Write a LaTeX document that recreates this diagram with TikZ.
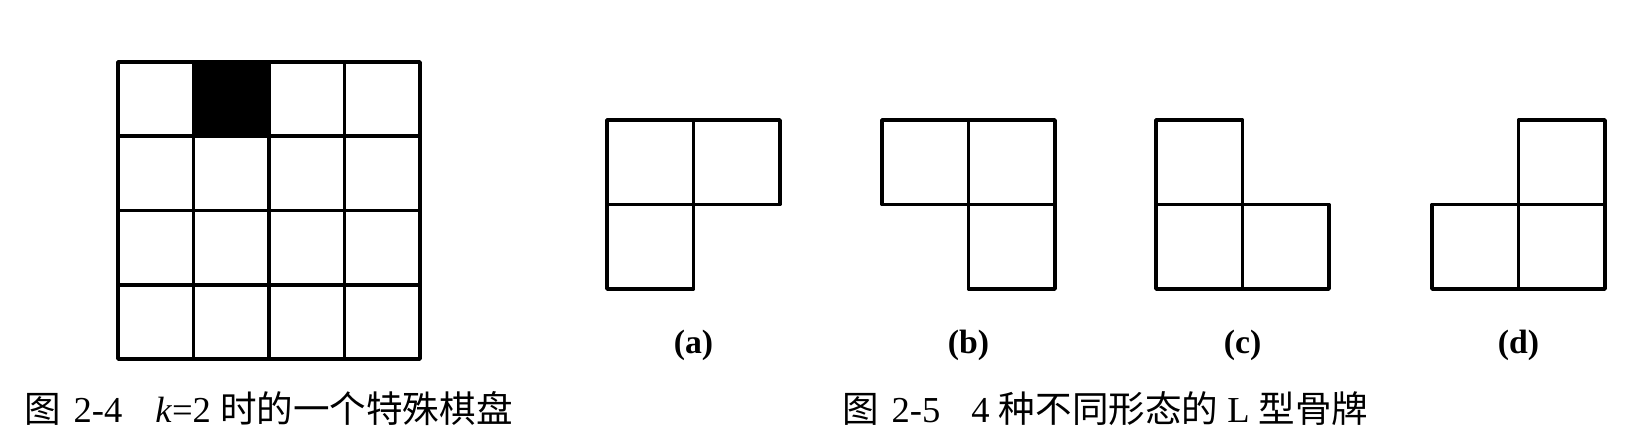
\documentclass[tikz,border=0pt]{standalone}
\usepackage{fontspec}
\setmainfont{Liberation Serif}
\newfontfamily\cjk{Noto Sans CJK SC}
\newcommand{\zh}[1]{{\cjk #1}}

\begin{document}
\begin{tikzpicture}[x=0.025cm,y=-0.025cm,
    cell/.style={draw=black,line width=2.5pt,line join=round,line cap=round},
    tag/.style={inner sep=0pt,font=\fontsize{24}{28}\selectfont\bfseries},
    caption/.style={anchor=west,inner sep=0pt,font=\fontsize{26}{30}\selectfont}]
	\useasboundingbox (0,0) rectangle (1644,438);
	%%%%% BOARD %%%%%
	\fill[black] (193.5,62) rectangle (269,136.25);
	\draw[cell] (118,62) rectangle (420,359);
	\foreach \i in {1,2,3} {
		\draw[cell] ({118+75.5*\i},62) -- ({118+75.5*\i},359);
		\draw[cell] (118,{62+74.25*\i}) -- (420,{62+74.25*\i});
	}
	\node[caption] (cap-board) at (24,409) {\zh{图}\hspace{0.35em}2-4\hspace{0.9em}\textit{k}=2 \zh{时的一个特殊棋盘}};
	
	%%%%% L TILES %%%%%
	\foreach \x/\lab/\cells in {607/a/{0/0,1/0,0/1}, 882/b/{0/0,1/0,1/1},
	                            1156/c/{0/0,0/1,1/1}, 1432/d/{1/0,0/1,1/1}} {
		\foreach \c/\r in \cells
			\draw[cell] ({\x+86.5*\c},{120+84.5*\r}) rectangle +(86.5,84.5);
		\node[tag] (tag-\lab) at ({\x+86.5},345) {(\lab)};
	}
	\node[caption] (cap-tiles) at (842,409) {\zh{图}\hspace{0.35em}2-5\hspace{0.85em}4 \zh{种不同形态的} L \zh{型骨牌}};
\end{tikzpicture}
\end{document}
